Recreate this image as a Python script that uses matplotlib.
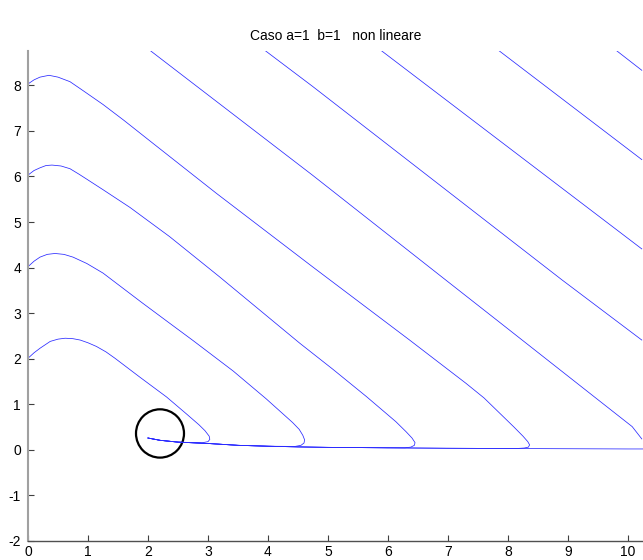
import matplotlib
matplotlib.use("Agg")
import matplotlib.pyplot as plt
from matplotlib.patches import Ellipse
import numpy as np

plt.rcParams['font.family'] = ['Liberation Sans', 'DejaVu Sans']
plt.rcParams['axes.unicode_minus'] = False

title = "Caso a=1  b=1   non lineare"

# trajectories starting on the y axis
a_x = [0.0, 0.1, 0.2, 0.37, 0.5, 0.62, 0.75, 0.87, 1.0, 1.14, 1.3, 1.45, 1.86, 2.31, 2.64, 2.85, 2.95, 3.02, 3.03, 3.0, 2.9]
a_y = [2.01, 2.13, 2.23, 2.38, 2.43, 2.45, 2.44, 2.41, 2.35, 2.27, 2.15, 2.01, 1.60, 1.16, 0.79, 0.55, 0.42, 0.30, 0.23, 0.18, 0.155]

b_x = [0.0, 0.1, 0.2, 0.32, 0.45, 0.6, 0.75, 0.98, 1.25, 1.53, 1.9, 2.36, 2.75, 3.19, 3.42, 3.97, 4.41, 4.52, 4.58, 4.61, 4.60, 4.55, 4.45]
b_y = [4.02, 4.14, 4.23, 4.29, 4.31, 4.29, 4.23, 4.09, 3.88, 3.60, 3.23, 2.78, 2.40, 1.96, 1.73, 1.12, 0.60, 0.45, 0.32, 0.22, 0.15, 0.10, 0.075]

c_x = [0.0, 0.1, 0.2, 0.3, 0.4, 0.55, 0.70, 0.85, 0.98, 1.25, 1.70, 2.36, 3.19, 4.53, 5.08, 5.64, 6.13, 6.30, 6.40, 6.45, 6.44, 6.38, 6.28]
c_y = [6.03, 6.13, 6.19, 6.24, 6.25, 6.23, 6.17, 6.05, 5.94, 5.71, 5.32, 4.68, 3.80, 2.34, 1.77, 1.17, 0.62, 0.40, 0.26, 0.16, 0.10, 0.06, 0.045]

d_x = [0.0, 0.1, 0.2, 0.35, 0.5, 0.70, 0.9, 1.25, 1.6, 2.08, 3.14, 4.74, 6.36, 7.30, 7.60, 7.85, 8.10, 8.25, 8.33, 8.36, 8.34, 8.27, 8.15]
d_y = [8.03, 8.12, 8.18, 8.22, 8.18, 8.08, 7.90, 7.58, 7.23, 6.73, 5.63, 4.02, 2.41, 1.46, 1.14, 0.82, 0.50, 0.30, 0.18, 0.11, 0.06, 0.04, 0.03]

# trajectories entering from the top edge
t1_x = [2.04, 4.74, 6.96, 7.85, 9.5, 10.07, 10.23]
t1_y = [8.76, 6.03, 3.73, 2.81, 1.10, 0.51, 0.24]
t2_x = [3.955, 4.74, 8.90, 10.23]
t2_y = [8.76, 7.98, 3.73, 2.41]
t3_x = [5.89, 10.23]
t3_y = [8.76, 4.41]
t4_x = [7.85, 10.23]
t4_y = [8.76, 6.37]
t5_x = [9.81, 10.23]
t5_y = [8.76, 8.33]

# slow return branch along the x axis
base_x = [2.0, 2.2, 2.5, 3.0, 3.5, 4.0, 4.5, 5.0, 6.0, 7.0, 8.0, 9.0, 10.0, 10.3]
base_y = [0.26, 0.21, 0.17, 0.14, 0.10, 0.08, 0.065, 0.055, 0.045, 0.035, 0.03, 0.025, 0.02, 0.02]

# circle marking the end point
circ_cx, circ_cy = 2.2, 0.36
circ_w, circ_h = 0.80, 1.06

fig = plt.figure(figsize=(6.43, 5.60), dpi=100)
ax = fig.add_axes([28/643, 19/560, 615/643, 490.3/560])

blue = '#2a2aff'
lw = 0.55

bx = np.array(base_x)
by = np.array(base_y)
for xs, ys in [(a_x, a_y), (b_x, b_y), (c_x, c_y), (d_x, d_y)]:
    xe = xs[-1]
    m = bx < xe
    px = list(xs) + list(bx[m][::-1])
    py = list(ys) + list(by[m][::-1])
    ax.plot(px, py, color=blue, lw=lw)

for xs, ys in [(t1_x, t1_y), (t2_x, t2_y), (t3_x, t3_y), (t4_x, t4_y), (t5_x, t5_y)]:
    ax.plot(xs, ys, color=blue, lw=lw)

ax.plot(base_x, base_y, color=blue, lw=lw)

ax.add_patch(Ellipse((circ_cx, circ_cy), circ_w, circ_h, fill=False,
                     edgecolor='black', lw=1.6))

ax.set_xlim(0, 10.25)
ax.set_ylim(-2, 8.76)
ax.set_xticks(range(0, 11))
ax.set_yticks(range(-2, 9))

for s in ['top', 'right']:
    ax.spines[s].set_visible(False)
ax.spines['left'].set_color('#a0a0a0')
ax.spines['left'].set_linewidth(1.5)
ax.spines['bottom'].set_color('#505050')
ax.spines['bottom'].set_linewidth(1.0)

ax.tick_params(direction='in', length=4, width=0.8, color='#404040',
               labelsize=10, labelcolor='black', pad=3)
ax.tick_params(axis='y', pad=5)

ax.set_title(title, fontsize=10, pad=8)

fig.savefig('out.png', dpi=100)
